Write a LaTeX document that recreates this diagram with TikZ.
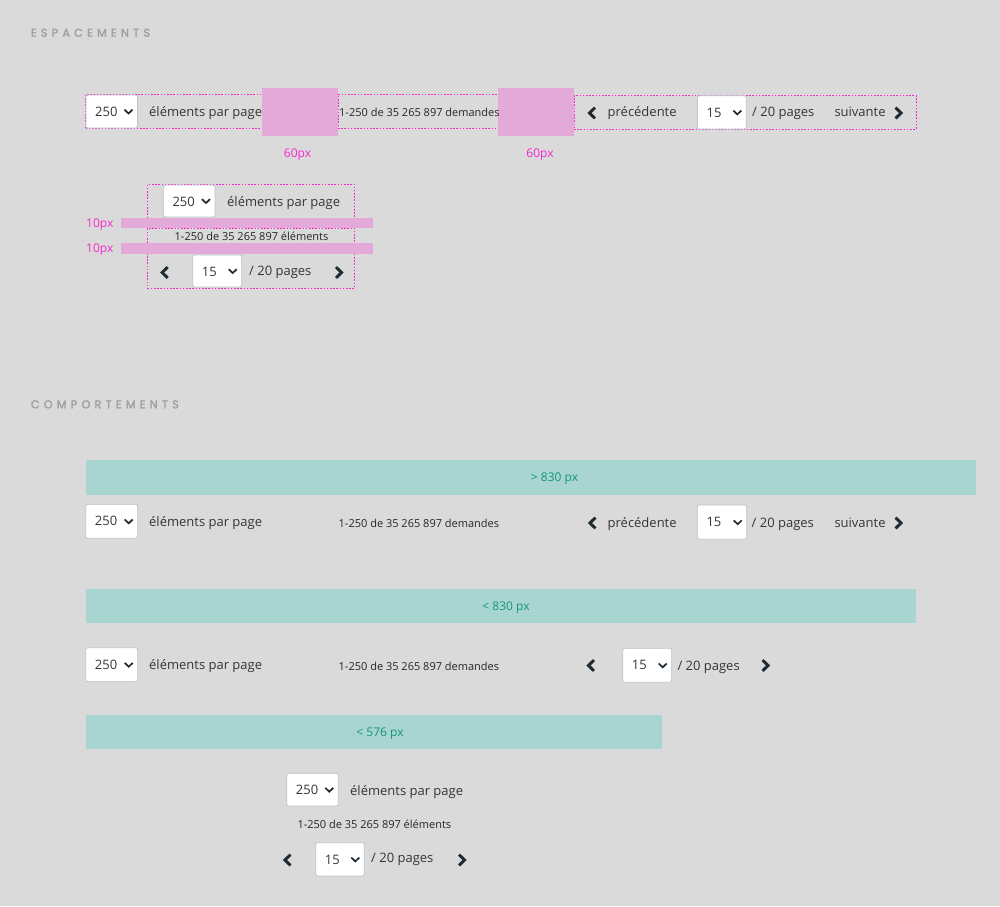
\documentclass[tikz,border=0pt]{standalone}
\usepackage{fontspec}
\setmainfont{Open Sans}
\newfontfamily\headfont[LetterSpace=37,FakeBold=2.2]{Poppins}
\usetikzlibrary{fit}

\definecolor{pagebg}{HTML}{DADADA}
\definecolor{gapfill}{HTML}{E3A9D9}
\definecolor{guide}{HTML}{F528CC}
\definecolor{bandfill}{HTML}{A8D5D0}
\definecolor{bandtext}{HTML}{14957B}
\definecolor{icondark}{HTML}{1F2B31}
\definecolor{uitext}{HTML}{353535}
\definecolor{selborder}{HTML}{BAC4CB}
\definecolor{headgrey}{HTML}{A0A0A0}

\tikzset{
  selbox/.style={draw=selborder, fill=white, rounded corners=2pt, inner sep=0pt, line width=0.8pt},
  ui/.style={inner sep=0pt, text=uitext, font=\fontsize{13}{15}\selectfont, anchor=base west},
  uismall/.style={inner sep=0pt, text=black!85, font=\fontsize{11}{13}\selectfont, anchor=base west},
  gaplabel/.style={inner sep=0pt, text=guide, font=\fontsize{12}{14}\selectfont},
  bandlabel/.style={inner sep=0pt, text=bandtext, font=\fontsize{12}{14}\selectfont, anchor=base},
  heading/.style={inner sep=0pt, text=headgrey, font=\headfont\fontsize{11.3}{13}\selectfont, anchor=base west},
  zone/.style={draw=guide, line width=0.8pt, dash pattern=on 1.6pt off 1.6pt, inner sep=0pt},
  gap/.style={fill=gapfill, draw=none, inner sep=0pt},
  band/.style={fill=bandfill, draw=none, inner sep=0pt},
  chev/.style={draw=icondark, line width=2.9pt, line join=miter, line cap=butt},
  dropchev/.style={draw=icondark, line width=1.7pt, line join=miter, line cap=butt},
}

% select box: name, x1, y1, x2, y2, value
\newcommand\pgselect[6]{%
  \node[selbox, fit={(#2,#3)(#4,#5)}] (#1) {};
  \node[ui] (#1-v) at ({#2+9},{#3+21.3}) {#6};
  \draw[dropchev] ({#4-13},{(#3+#5)/2-1.8}) -- ({#4-9},{(#3+#5)/2+2}) -- ({#4-5},{(#3+#5)/2-1.8});
}
% previous / next chevrons: name, centre x, centre y
\newcommand\pgprev[3]{%
  \coordinate (#1) at (#2,#3);
  \draw[chev] ([shift={(3.0,-5.4)}]#1) -- ([shift={(-2.6,0)}]#1) -- ([shift={(3.0,5.4)}]#1);
}
\newcommand\pgnext[3]{%
  \coordinate (#1) at (#2,#3);
  \draw[chev] ([shift={(-3.0,-5.4)}]#1) -- ([shift={(2.6,0)}]#1) -- ([shift={(-3.0,5.4)}]#1);
}

\begin{document}
\begin{tikzpicture}[x=1pt, y=-1pt]
  \fill[pagebg] (0,0) rectangle (1000,906);
  \useasboundingbox (0,0) rectangle (1000,906);

  % ---------------- spacing ----------------
  \node[heading] (hspace) at (30.7,36.7) {ESPACEMENTS};

  % horizontal layout
  \node[zone, fit={(85.5,94.5)(262,128.5)}] (zA) {};
  \node[zone, fit={(338,94.5)(498,128.5)}] (zB) {};
  \node[zone, fit={(574,95.5)(916,129)}] (zC) {};
  \node[gap, fit={(262,88)(338,135.5)}] (gA) {};
  \node[gap, fit={(498,88)(574,135.5)}] (gB) {};
  \node[gaplabel, anchor=base] (gAl) at (297.5,157.5) {60px};
  \node[gaplabel, anchor=base] (gBl) at (540,157.5) {60px};

  \pgselect{s1}{86}{95}{137.5}{128}{250}
  \node[ui] (t1a) at (149,116) {éléments par page};
  \node[uismall] (t1b) at (339,116.6) {1-250 de 35 265 897 demandes};
  \pgprev{p1}{592}{113}
  \node[ui] (t1c) at (607.5,116.8) {précédente};
  \pgselect{s1b}{697.5}{95.7}{746.3}{129}{15}
  \node[ui] (t1d) at (752,116.8) {/ 20 pages};
  \node[ui] (t1e) at (834.3,116.8) {suivante};
  \pgnext{n1}{898.5}{113}

  % stacked layout
  \node[zone, fit={(147.5,184.3)(354.5,218)}] (zD) {};
  \node[zone, fit={(147.5,228.3)(354.5,243)}] (zE) {};
  \node[zone, fit={(147.5,253.5)(354.5,288.3)}] (zF) {};
  \node[gap, fit={(121,218.3)(372.5,228.3)}] (gC) {};
  \node[gap, fit={(121,243.3)(372.5,253.8)}] (gD) {};
  \node[gaplabel, anchor=base west] (gCl) at (86,227.7) {10px};
  \node[gaplabel, anchor=base west] (gDl) at (86,252.3) {10px};

  \pgselect{s2}{163.3}{185}{215}{217}{250}
  \node[ui] (t2a) at (227,206.5) {éléments par page};
  \node[uismall] (t2b) at (174.5,240.5) {1-250 de 35 265 897 éléments};
  \pgprev{p2}{164.7}{272.5}
  \pgselect{s2b}{192.7}{255}{241.7}{287}{15}
  \node[ui] (t2c) at (249,275.5) {/ 20 pages};
  \pgnext{n2}{339}{272.5}

  % ---------------- behaviours ----------------
  \node[heading] (hbehav) at (30.7,408.3) {COMPORTEMENTS};

  % wider than 830 px
  \node[band, fit={(86,460)(976,495)}] (b1) {};
  \node[bandlabel] (b1l) at (554.5,481.5) {> 830 px};
  \pgselect{s3}{85.7}{504.3}{137.7}{538.3}{250}
  \node[ui] (t3a) at (149,526) {éléments par page};
  \node[uismall] (t3b) at (338.5,527) {1-250 de 35 265 897 demandes};
  \pgprev{p3}{592.5}{523}
  \node[ui] (t3c) at (607.5,527) {précédente};
  \pgselect{s3b}{697.3}{505}{746.7}{539.3}{15}
  \node[ui] (t3d) at (751.5,527) {/ 20 pages};
  \node[ui] (t3e) at (834.3,527) {suivante};
  \pgnext{n3}{898.5}{523}

  % narrower than 830 px
  \node[band, fit={(86,588.5)(916,623.3)}] (b2) {};
  \node[bandlabel] (b2l) at (506,610.5) {< 830 px};
  \pgselect{s4}{85.7}{647.7}{137.7}{681.7}{250}
  \node[ui] (t4a) at (149,669.5) {éléments par page};
  \node[uismall] (t4b) at (338.5,670) {1-250 de 35 265 897 demandes};
  \pgprev{p4}{591}{665.5}
  \pgselect{s4b}{622.7}{648.3}{671.7}{682.3}{15}
  \node[ui] (t4c) at (677.3,670) {/ 20 pages};
  \pgnext{n4}{765.5}{665.5}

  % narrower than 576 px
  \node[band, fit={(86,715)(662,749)}] (b3) {};
  \node[bandlabel] (b3l) at (380,736.5) {< 576 px};
  \pgselect{s5}{286.7}{773.3}{338.3}{806}{250}
  \node[ui] (t5a) at (350,795) {éléments par page};
  \node[uismall] (t5b) at (297.3,828.3) {1-250 de 35 265 897 éléments};
  \pgprev{p5}{287.5}{860}
  \pgselect{s5b}{315.7}{842.7}{364.3}{876}{15}
  \node[ui] (t5c) at (371,862.3) {/ 20 pages};
  \pgnext{n5}{462}{860}
\end{tikzpicture}
\end{document}
